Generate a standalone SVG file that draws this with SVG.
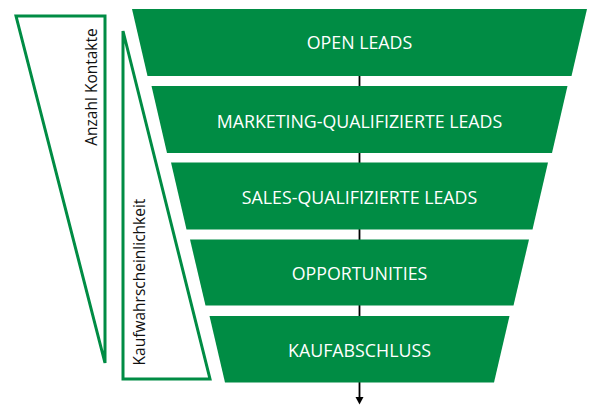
<svg xmlns="http://www.w3.org/2000/svg" width="592" height="406" viewBox="0 0 592 406">
  <defs>
    <style>
      .band { fill: #008C44; }
      .label { font-family: "Open Sans", "Noto Sans", "DejaVu Sans", sans-serif; font-size: 17.8px; fill: #ffffff; text-anchor: middle; }
      .side { fill: none; stroke: #008C44; stroke-width: 3; stroke-linejoin: miter; }
      .sidelabel { font-family: "Open Sans", "Noto Sans", "DejaVu Sans", sans-serif; font-size: 15.5px; fill: #111111; text-anchor: middle; }
      .conn { stroke: #000000; stroke-width: 1.8; fill: none; }
    </style>
  </defs>

  <rect width="592" height="406" fill="#ffffff"/>

  <g id="connectors">
    <line class="conn" x1="359.5" y1="70" x2="359.5" y2="397"/>
    <polygon points="355.5,397 363.5,397 359.5,404.5" fill="#000000"/>
  </g>

  <g id="anzahl-kontakte">
    <polygon class="side" points="16,16 105,16 105,363"/>
    <text class="sidelabel" transform="translate(97,87) rotate(-90)">Anzahl Kontakte</text>
  </g>

  <g id="kaufwahrscheinlichkeit">
    <polygon class="side" points="123,31 210,379 123,379"/>
    <text class="sidelabel" transform="translate(145,282) rotate(-90)">Kaufwahrscheinlichkeit</text>
  </g>

  <g id="open-leads">
    <polygon class="band" points="132,9 587,9 571.5,76 147.5,76"/>
    <text class="label" x="359.5" y="49">OPEN LEADS</text>
  </g>

  <g id="mql">
    <polygon class="band" points="151.5,86 567.5,86 552,153 167,153"/>
    <text class="label" x="359.5" y="127.5">MARKETING-QUALIFIZIERTE LEADS</text>
  </g>

  <g id="sql">
    <polygon class="band" points="171,162.5 548,162.5 532.5,229.5 186.5,229.5"/>
    <text class="label" x="359.5" y="203.5">SALES-QUALIFIZIERTE LEADS</text>
  </g>

  <g id="opportunities">
    <polygon class="band" points="190,239.5 529,239.5 513.5,305.5 205.5,305.5"/>
    <text class="label" x="359.5" y="279.5">OPPORTUNITIES</text>
  </g>

  <g id="kaufabschluss">
    <polygon class="band" points="209.5,316 509.5,316 494,382.5 225,382.5"/>
    <text class="label" x="359.5" y="356.5">KAUFABSCHLUSS</text>
  </g>
</svg>
